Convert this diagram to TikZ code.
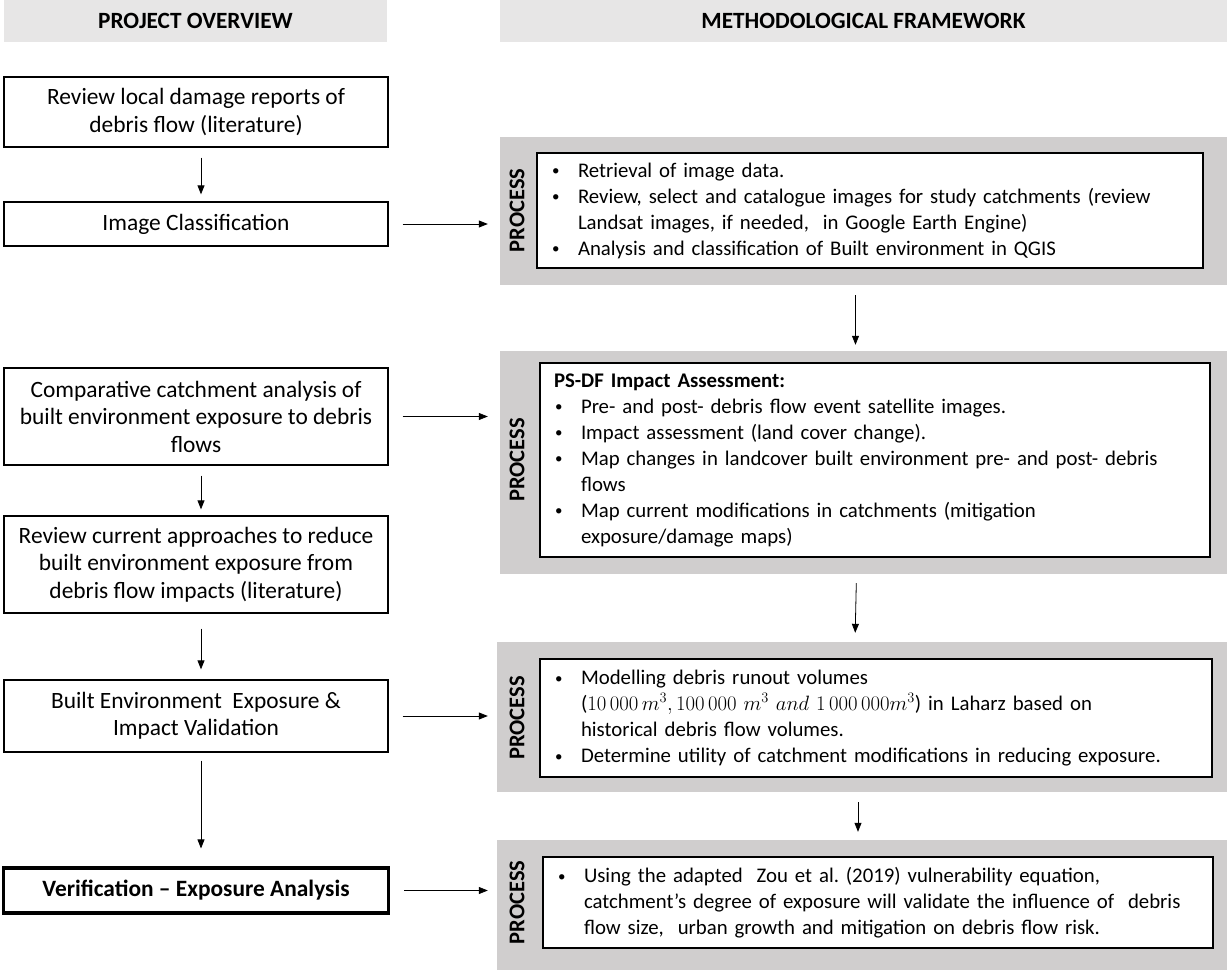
\documentclass[tikz,border=0pt]{standalone}
\usepackage{fontspec}
\usepackage{graphicx}
\setmainfont{Carlito}
\usetikzlibrary{arrows.meta}
\definecolor{hdr}{HTML}{E7E6E6}
\definecolor{pnl}{HTML}{D0CECE}
\newcommand{\bul}{\makebox[27pt][l]{\hspace{1pt}\raisebox{0.12ex}{\scalebox{0.72}{\textbullet}}}}
\newcommand{\ind}{\hspace*{27pt}}
\frenchspacing
\begin{document}
\begin{tikzpicture}[x=1pt,y=-1pt,
 every node/.style={font=\fontsize{20.8}{26}\selectfont},
 hdrbox/.style={fill=hdr, font=\bfseries\fontsize{23.3}{26}\selectfont, inner sep=0pt},
 lbox/.style={draw, line width=1.3pt, align=center, inner sep=0pt, minimum width=384pt, font=\fontsize{23.4}{27.5}\selectfont},
 panel/.style={fill=pnl, inner sep=0pt},
 ibox/.style={draw, line width=1.3pt, fill=white, align=left, inner xsep=14pt, inner ysep=0pt},
 plabel/.style={rotate=90, inner sep=0pt, font=\bfseries\fontsize{22.5}{24}\selectfont},
 arr/.style={-{Triangle[length=9pt,width=7pt]}, line width=0.8pt}]
\useasboundingbox (0,0) rectangle (1229,972);
% headers
\node[hdrbox, minimum width=383pt, minimum height=42pt] (h1) at (195.5,21) {PROJECT OVERVIEW};
\node[hdrbox, minimum width=727pt, minimum height=42pt] (h2) at (863.5,21) {METHODOLOGICAL FRAMEWORK};
% left boxes
\node[lbox, minimum height=70pt] (b1) at (196,112) {Review local damage reports of\\debris flow (literature)};
\node[lbox, minimum height=44pt] (b2) at (196,224) {Image Classification};
\node[lbox, minimum height=97pt] (b3) at (196,416.5) {Comparative catchment analysis of\\built environment exposure to debris\\flows};
\node[lbox, minimum height=97pt] (b4) at (196,564.5) {Review current approaches to reduce\\built environment exposure from\\debris flow impacts (literature)};
\node[lbox, minimum height=72pt] (b5) at (196,716) {Built Environment~~Exposure \&\\Impact Validation};
\node[lbox, line width=3.2pt, minimum width=385pt, minimum height=45pt] (b6) at (196,890.5) {\textbf{Verification -- Exposure Analysis}};
% panels
\node[panel, minimum width=727pt, minimum height=148pt] (P1) at (863.5,211) {};
\node[panel, minimum width=727pt, minimum height=223pt] (P2) at (863.5,462.5) {};
\node[panel, minimum width=730pt, minimum height=150pt] (P3) at (862,717) {};
\node[panel, minimum width=730pt, minimum height=130pt] (P4) at (862,905) {};
% inner boxes
\node[ibox, text width=638pt, minimum height=115pt] (i1) at (870,210.5) {%
\bul Retrieval of image data.\\
\bul Review, select and catalogue images for study catchments (review\\
\ind Landsat images, if needed,~ in Google Earth Engine)\\
\bul Analysis and classification of Built environment in QGIS};
\node[ibox, text width=642pt, minimum height=194pt] (i2) at (875,460) {%
\textbf{PS-DF Impact Assessment:}\\
\bul Pre- and post- debris flow event satellite images.\\
\bul Impact assessment (land cover change).\\
\bul Map changes in landcover built environment pre- and post- debris\\
\ind flows\\
\bul Map current modifications in catchments (mitigation\\
\ind exposure/damage maps)};
\node[ibox, text width=644pt, minimum height=118pt] (i3) at (876,718) {%
\bul Modelling debris runout volumes\\
\ind ($10\,000\,m^3, 100\,000\ m^3\ and\ 1\,000\,000m^3$) in Laharz based on\\
\ind historical debris flow volumes.\\
\bul Determine utility of catchment modifications in reducing exposure.};
\node[ibox, text width=642pt, minimum height=91pt] (i4) at (878,902.5) {%
\bul Using the adapted~ Zou et al. (2019) vulnerability equation,\\
\ind catchment's degree of exposure will validate the influence of~ debris\\
\ind flow size,~ urban growth and mitigation on debris flow risk.};
% labels
\node[plabel] (l1) at (517,210.5) {PROCESS};
\node[plabel] (l2) at (517,460) {PROCESS};
\node[plabel] (l3) at (517,718) {PROCESS};
\node[plabel] (l4) at (517,902.5) {PROCESS};
% left vertical arrows
\draw[arr, shorten <=10pt, shorten >=7pt] ([xshift=5pt]b1.south) -- ([xshift=5pt]b2.north);
\draw[arr, shorten <=10pt, shorten >=6pt] ([xshift=5pt]b3.south) -- ([xshift=5pt]b4.north);
\draw[arr, shorten <=15pt, shorten >=10pt] ([xshift=5pt]b4.south) -- ([xshift=5pt]b5.north);
\draw[arr, shorten <=8pt, shorten >=18pt] ([xshift=5pt]b5.south) -- ([xshift=5pt]b6.north);
% horizontal arrows
\draw[arr, shorten <=14pt, shorten >=12pt] (b2.east) -- (b2.east -| P1.west);
\draw[arr, shorten <=14pt, shorten >=12pt] (b3.east) -- (b3.east -| P2.west);
\draw[arr, shorten <=14pt, shorten >=9pt] (b5.east) -- (b5.east -| P3.west);
\draw[arr, shorten <=14pt, shorten >=9pt] (b6.east) -- (b6.east -| P4.west);
% panel arrows
\draw[arr, shorten <=10pt, shorten >=6pt] ([xshift=-8pt]P1.south) -- ([xshift=-8pt]P2.north);
\draw[arr, shorten <=9pt, shorten >=9pt] ([xshift=-7pt]P2.south) -- ([xshift=-7pt]P3.north);
\draw[arr, shorten <=10pt, shorten >=8pt] ([xshift=-4pt]P3.south) -- ([xshift=-4pt]P4.north);
\end{tikzpicture}
\end{document}
